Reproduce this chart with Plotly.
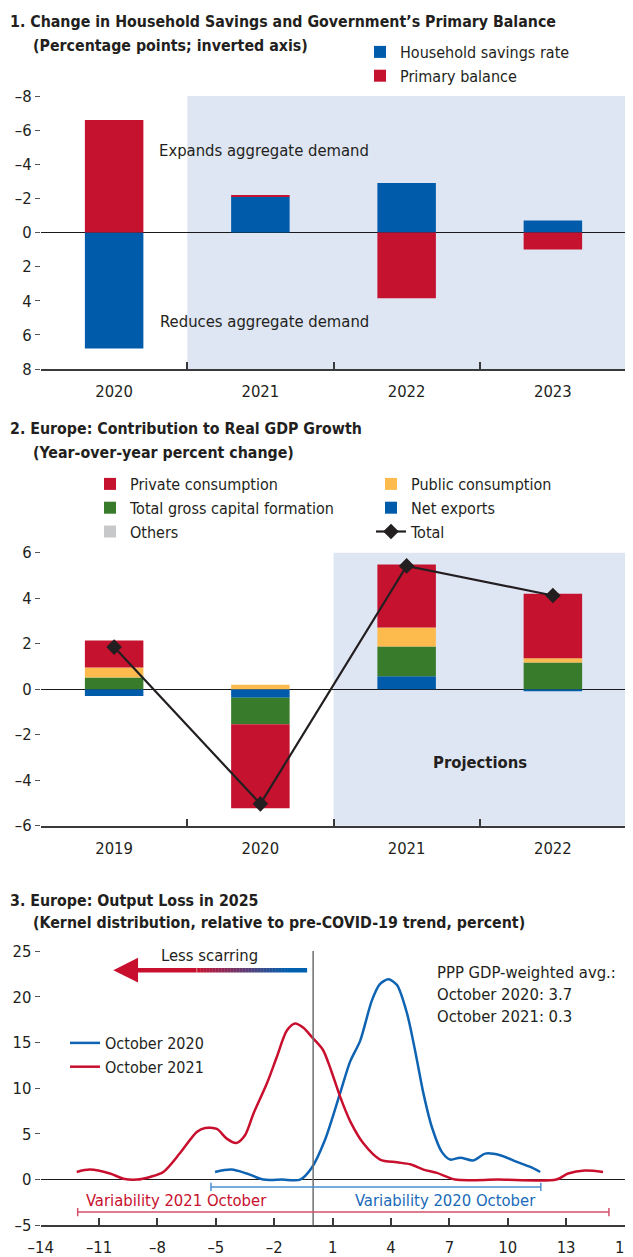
import plotly.graph_objects as go

# The page body has an 8px default margin, so the figure is sized to fill the rest of the window.
OFF = 8
W, H = 633 - OFF, 1257 - OFF
FONT = "DejaVu Sans Condensed, DejaVu Sans, sans-serif"
FS = 16.5
LFS = 16
TFS = 15.8
TXT = "#231f20"
BLUE = "#005bab"
RED = "#c4122f"
GREEN = "#387c2b"
YELLOW = "#fdba4d"
GRAY = "#c7c8ca"
SHADE = "#dfe6f3"
LBLUE = "#0e63b2"
LRED = "#c8102e"


def fx(p):
    return (p - OFF) / W


def fy(p):
    return 1 - (p - OFF) / H


def lab(v):
    return str(v).replace("-", "\u2013")


# ---------------- data ----------------
p1_years = ["2020", "2021", "2022", "2023"]
p1_household_savings = [6.8, -2.1, -2.9, -0.7]
p1_primary_balance = [-6.6, -0.1, 3.85, 1.0]
p1_yticks = [-8, -6, -4, -2, 0, 2, 4, 6, 8]

p2_years = ["2019", "2020", "2021", "2022"]
p2_private = [1.19, -3.69, 2.77, 2.84]
p2_public = [0.44, 0.20, 0.83, 0.19]
p2_gcf = [0.51, -1.16, 1.31, 1.17]
p2_netx = [-0.30, -0.38, 0.57, -0.09]
p2_others = [0.0, 0.0, 0.0, 0.0]
p2_total = [1.85, -5.04, 5.42, 4.12]
p2_yticks = [-6, -4, -2, 0, 2, 4, 6]

p3_oct2020_x = [-5.04, -4.2, -3.41, -2.55, -1.6, -0.67, -0.07, 0.6, 1.35, 1.9, 2.42,
                3.02, 3.44, 3.87, 4.3, 4.82, 5.24, 5.67, 6.1, 6.62, 7.04, 7.56,
                8.24, 8.84, 9.61, 10.47, 11.16, 11.67]
p3_oct2020_y = [0.83, 1.09, 0.66, 0.0, 0.0, 0.0, 1.3, 4.3, 9.2, 12.9, 15.2,
                19.6, 21.4, 21.9, 21.3, 18.2, 14.1, 9.4, 5.75, 3.0, 2.19, 2.4,
                2.1, 2.84, 2.66, 1.93, 1.38, 0.83]
p3_oct2021_x = [-12.15, -11.47, -10.44, -9.75, -9.06, -8.38, -7.7, -6.84, -5.98, -5.55,
                -4.95, -4.44, -3.96, -3.5, -3.07, -2.38, -1.87, -1.35, -0.93, -0.5,
                -0.07, 0.5, 0.92, 1.39, 1.9, 2.59, 3.44, 4.3, 4.99, 5.67, 6.36,
                7.3, 9.5, 12.5, 13.1, 13.97, 14.9]
p3_oct2021_y = [0.83, 1.09, 0.66, 0.1, 0.0, 0.29, 0.83, 2.9, 5.2, 5.65,
                5.54, 4.48, 4.0, 4.85, 7.2, 10.5, 13.4, 16.3, 17.07, 16.6,
                15.6, 14.2, 11.96, 9.04, 6.4, 3.94, 2.19, 1.89, 1.67, 1.09, 0.73,
                0.0, 0.0, 0.0, 0.66, 1.0, 0.84]
p3_xticks = [-14, -11, -8, -5, -2, 1, 4, 7, 10, 13, 16]
p3_yticks = [-5, 0, 5, 10, 15, 20, 25]
p3_var2020 = [-5.25, 11.7]
p3_var2021 = [-12.1, 15.2]
p3_avg_labels = ["October 2020", "October 2021"]
p3_avg_values = [3.7, 0.3]

fig = go.Figure()

# ---------------- panel 1 ----------------
fig.add_trace(go.Bar(x=p1_years, y=p1_household_savings, name="Household savings rate",
                     marker=dict(color=BLUE, line=dict(width=0)), width=0.4,
                     xaxis="x", yaxis="y", legend="legend"))
fig.add_trace(go.Bar(x=p1_years, y=p1_primary_balance, name="Primary balance",
                     marker=dict(color=RED, line=dict(width=0)), width=0.4,
                     xaxis="x", yaxis="y", legend="legend"))

# ---------------- panel 2 ----------------
for vals, name, col, lg, rank in [(p2_netx, "Net exports", BLUE, "legend4", 2),
                                  (p2_gcf, "Total gross capital formation", GREEN, "legend2", 2),
                                  (p2_public, "Public consumption", YELLOW, "legend4", 1),
                                  (p2_private, "Private consumption", RED, "legend2", 1),
                                  (p2_others, "Others", GRAY, "legend2", 3)]:
    fig.add_trace(go.Bar(x=p2_years, y=vals, name=name, marker=dict(color=col, line=dict(width=0)),
                         width=0.4, xaxis="x2", yaxis="y2", legend=lg, legendrank=rank))
fig.add_trace(go.Scatter(x=p2_years, y=p2_total, name="Total", mode="lines+markers",
                         line=dict(color="#231f20", width=2.2),
                         marker=dict(symbol="diamond", size=12, color="#231f20"),
                         xaxis="x2", yaxis="y2", legend="legend4", legendrank=3))

# ---------------- panel 3 ----------------
fig.add_trace(go.Scatter(x=p3_oct2020_x, y=p3_oct2020_y, name="October 2020", mode="lines",
                         line=dict(color=LBLUE, width=2.5, shape="spline", smoothing=0.8),
                         xaxis="x3", yaxis="y3", legend="legend3"))
fig.add_trace(go.Scatter(x=p3_oct2021_x, y=p3_oct2021_y, name="October 2021", mode="lines",
                         line=dict(color=LRED, width=2.5, shape="spline", smoothing=0.8),
                         xaxis="x3", yaxis="y3", legend="legend3"))

base_font = dict(family=FONT, size=FS, color=TXT)
ydef = dict(showgrid=False, showline=False, ticks="outside", ticklen=5, tickwidth=1,
            tickcolor="#555555", mirror="ticks", zeroline=True, zerolinecolor="#1a1a1a",
            zerolinewidth=1, tickfont=dict(size=FS, color=TXT), fixedrange=True,
            automargin=False)
xdef = dict(showgrid=False, showline=True, linecolor="#3a3a3a", linewidth=2, ticks="inside",
            ticklen=7, tickcolor="#3a3a3a", tickwidth=1.5, tickfont=dict(size=FS, color=TXT),
            zeroline=False, ticklabelstandoff=6, fixedrange=True, automargin=False,
            ticklabeloverflow="allow")

xd = [fx(41), fx(626)]

shapes = [
    dict(type="rect", xref="x", yref="y domain", x0=0.5, x1=3.5, y0=0, y1=1,
         fillcolor=SHADE, line=dict(width=0), layer="below"),
    dict(type="rect", xref="x2", yref="y2 domain", x0=1.5, x1=3.5, y0=0, y1=1,
         fillcolor=SHADE, line=dict(width=0), layer="below"),
    dict(type="line", xref="x3", yref="y3 domain", x0=0, x1=0, y0=0, y1=1,
         line=dict(color="#6d6e71", width=1.5)),
]

# variability brackets
cap = 0.45
for rng, yv, col in [(p3_var2020, -0.8, "#4a8fd0"), (p3_var2021, -3.55, "#d4506b")]:
    shapes.append(dict(type="line", xref="x3", yref="y3", x0=rng[0], x1=rng[1], y0=yv, y1=yv,
                       line=dict(color=col, width=1.5)))
    for xe in rng:
        shapes.append(dict(type="line", xref="x3", yref="y3", x0=xe, x1=xe, y0=yv - cap,
                           y1=yv + cap, line=dict(color=col, width=1.5)))

# gradient arrow shaft ("Less scarring")
ay_arrow = 22.9
x_blue_end, x_grad_start, x_grad_end = -0.31, -1.34, -5.96
c_blue = (0, 95, 175)
c_red = (200, 16, 46)
shapes.append(dict(type="line", xref="x3", yref="y3", x0=x_blue_end, x1=x_grad_start,
                   y0=ay_arrow, y1=ay_arrow, line=dict(color="rgb(0,95,175)", width=4.5)))
N = 30
for i in range(N):
    t0 = i / N
    t1 = (i + 1) / N
    tm = (t0 + t1) / 2
    c = tuple(int(round(c_blue[k] + (c_red[k] - c_blue[k]) * tm)) for k in range(3))
    xa = x_grad_start + (x_grad_end - x_grad_start) * t0
    xb = x_grad_start + (x_grad_end - x_grad_start) * t1
    shapes.append(dict(type="line", xref="x3", yref="y3", x0=xa, x1=xb, y0=ay_arrow,
                       y1=ay_arrow, line=dict(color="rgb(%d,%d,%d)" % c, width=4.5)))

ann = []


def title(text, xpx, ypx):
    ann.append(dict(text="<b>%s</b>" % text, xref="paper", yref="paper",
                    x=fx(xpx), y=fy(ypx), xanchor="left", yanchor="middle", showarrow=False,
                    font=dict(family=FONT, size=TFS, color=TXT)))


title("1. Change in Household Savings and Government\u2019s Primary Balance", 8, 22)
title("(Percentage points; inverted axis)", 31, 45)
title("2. Europe: Contribution to Real GDP Growth", 8, 429)
title("(Year-over-year percent change)", 31, 452)
title("3. Europe: Output Loss in 2025", 8, 900)
title("(Kernel distribution, relative to pre-COVID-19 trend, percent)", 31, 922)

ann.append(dict(text="Expands aggregate demand", xref="x", yref="y", x=0.29, y=-4.8,
                xanchor="left", yanchor="middle", showarrow=False, font=base_font))
ann.append(dict(text="Reduces aggregate demand", xref="x", yref="y", x=0.30, y=5.2,
                xanchor="left", yanchor="middle", showarrow=False, font=base_font))
ann.append(dict(text="<b>Projections</b>", xref="x2", yref="y2", x=2.5, y=-3.2,
                xanchor="center", yanchor="middle", showarrow=False, font=base_font))

ann.append(dict(text="PPP GDP-weighted avg.:", xref="x3", yref="y3", x=6.24, y=22.7,
                xanchor="left", yanchor="middle", showarrow=False, font=base_font))
for i, (lbl, v) in enumerate(zip(p3_avg_labels, p3_avg_values)):
    ann.append(dict(text="%s: %.1f" % (lbl, v), xref="x3", yref="y3", x=6.24,
                    y=22.7 - 2.45 * (i + 1), xanchor="left", yanchor="middle",
                    showarrow=False, font=base_font))
ann.append(dict(text="Less scarring", xref="x3", yref="y3", x=-5.32, y=24.5,
                xanchor="center", yanchor="middle", showarrow=False, font=base_font))
ann.append(dict(text="", xref="x3", yref="y3", axref="x3", ayref="y3", x=-10.27, y=ay_arrow,
                ax=x_grad_end + 0.05, ay=ay_arrow, showarrow=True, arrowhead=2, arrowsize=1.1,
                arrowwidth=4.5, arrowcolor=LRED))
ann.append(dict(text="Variability 2021 October", xref="x3", yref="y3", x=-11.8, y=-2.25,
                xanchor="left", yanchor="middle", showarrow=False,
                font=dict(family=FONT, size=FS, color=LRED)))
ann.append(dict(text="Variability 2020 October", xref="x3", yref="y3", x=11.58, y=-2.25,
                xanchor="right", yanchor="middle", showarrow=False,
                font=dict(family=FONT, size=FS, color="#1a6ab8")))


def legend_at(xpx, ypx):
    return dict(x=fx(xpx), y=fy(ypx), xref="container", yref="container", xanchor="left",
                yanchor="top", orientation="v", bgcolor="rgba(0,0,0,0)",
                font=dict(family=FONT, size=LFS, color=TXT),
                traceorder="normal", borderwidth=0)


fig.update_layout(
    width=W, height=H, margin=dict(l=0, r=0, t=0, b=0, autoexpand=False),
    paper_bgcolor="white", plot_bgcolor="rgba(0,0,0,0)",
    font=base_font, barmode="relative", showlegend=True,
    xaxis=dict(xdef, domain=xd, anchor="y", type="category", tickson="boundaries",
               range=[-0.5, 3.5]),
    yaxis=dict(ydef, domain=[fy(369), fy(96)], anchor="x", range=[8, -8],
               tickvals=p1_yticks, ticktext=[lab(v) for v in p1_yticks]),
    xaxis2=dict(xdef, domain=xd, anchor="y2", type="category", tickson="boundaries",
                range=[-0.5, 3.5]),
    yaxis2=dict(ydef, domain=[fy(825.7), fy(552.7)], anchor="x2", range=[-6, 6],
                tickvals=p2_yticks, ticktext=[lab(v) for v in p2_yticks]),
    xaxis3=dict(xdef, domain=[fx(40.7), fx(624.5)], anchor="y3", range=[-14, 16],
                tickvals=p3_xticks, ticktext=[lab(v) for v in p3_xticks]),
    yaxis3=dict(ydef, domain=[fy(1225.3), fy(951)], anchor="x3", range=[-5, 25],
                tickvals=p3_yticks, ticktext=[lab(v) for v in p3_yticks]),
    legend=legend_at(360, 35),
    legend2=legend_at(90, 467),
    legend4=legend_at(371, 467),
    legend3=legend_at(65, 1026),
    shapes=shapes, annotations=ann,
)

fig.write_html("out.html")
